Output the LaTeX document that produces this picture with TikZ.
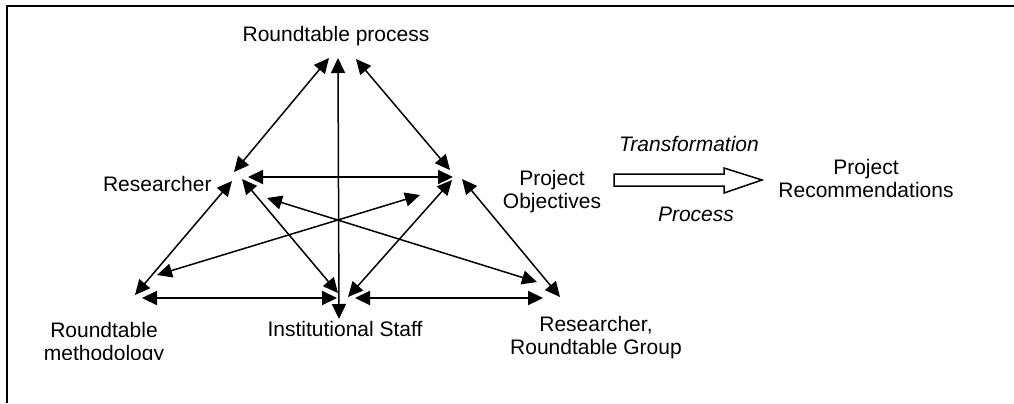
\documentclass[tikz,border=0pt]{standalone}
\usepackage{fontspec}
\setmainfont{Liberation Sans}
\usetikzlibrary{arrows.meta}
\begin{document}
\begin{tikzpicture}[x=0.5pt,y=-0.5pt,
  link/.style={line width=0.75pt,{Triangle[length=7.5pt,width=7pt]}-{Triangle[length=7.5pt,width=7pt]}},
  boldlink/.style={link,line width=1.1pt},
  lbl/.style={inner sep=0pt,align=center,font=\fontsize{10.5}{11.5}\selectfont},
  blockarrow/.style={line width=0.75pt}]
\useasboundingbox (0,0) rectangle (1014,403);
\draw[line width=1pt] (7,403) -- (7,6) -- (1014,6);
\begin{scope}
\clip (0,0) rectangle (1014,359);
\node[lbl,anchor=north] (rtp) at (336,26) {Roundtable process};
\node[lbl,anchor=north east] (res) at (212,176) {Researcher};
\node[lbl,anchor=north] (obj) at (552,170) {Project\\Objectives};
\node[lbl,anchor=north] (meth) at (104,322) {Roundtable\\methodology};
\node[lbl,anchor=north] (staff) at (345,321) {Institutional Staff};
\node[lbl,anchor=north] (grp) at (596,316) {Researcher,\\Roundtable Group};
\node[lbl,anchor=north] (rec) at (866,159) {Project\\Recommendations};
\node[lbl,anchor=north] (trf) at (689,136) {\itshape Transformation};
\node[lbl,anchor=north] (prc) at (696,207) {\itshape Process};
\coordinate (rtpL) at (329,58);
\coordinate (rtpC) at (338,58);
\coordinate (rtpR) at (356,59);
\coordinate (resT) at (234,172);
\coordinate (resR) at (248,177);
\coordinate (resB) at (232,181);
\coordinate (resS) at (242,179);
\coordinate (resX) at (267,198);
\coordinate (objT) at (450,170);
\coordinate (objL) at (453,177);
\coordinate (objS) at (452,180);
\coordinate (objB) at (462,179);
\coordinate (objX) at (420,195);
\coordinate (methT) at (135,295);
\coordinate (methR) at (142,298);
\coordinate (methX) at (157,275);
\coordinate (staffB) at (339,319);
\coordinate (staffL) at (338,293);
\coordinate (staffLH) at (337,298);
\coordinate (staffR) at (348,297);
\coordinate (staffRH) at (355,298);
\coordinate (grpT) at (560,297);
\coordinate (grpL) at (543,298);
\coordinate (grpX) at (537,282);
\draw[link] (rtpL) -- (resT);
\draw[link] (rtpR) -- (objT);
\draw[link] (rtpC) -- (staffB);
\draw[boldlink] (resR) -- (objL);
\draw[link] (resB) -- (methT);
\draw[link] (resS) -- (staffL);
\draw[link] (resX) -- (grpX);
\draw[link] (methX) -- (objX);
\draw[link] (objS) -- (staffR);
\draw[link] (objB) -- (grpT);
\draw[boldlink] (methR) -- (staffLH);
\draw[boldlink] (staffRH) -- (grpL);
\coordinate (flow) at (614,180);
\draw[blockarrow] ([yshift=3pt]flow) -- ++(110,0) -- ++(0,-6) -- ++(38,12) -- ++(-38,13) -- ++(0,-7) -- ++(-110,0) -- cycle;
\end{scope}
\end{tikzpicture}
\end{document}
